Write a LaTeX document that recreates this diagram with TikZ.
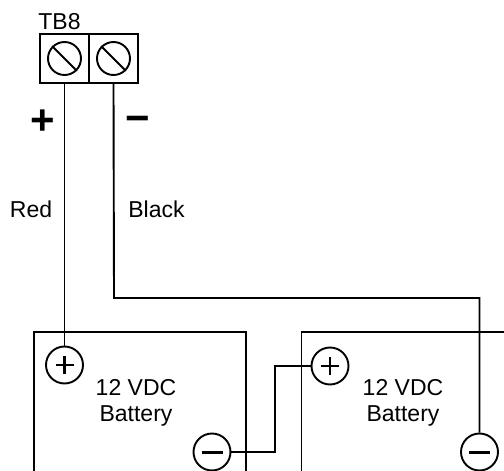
\documentclass[tikz,border=0pt]{standalone}
\usepackage{fontspec}
\setmainfont{Liberation Sans}
\begin{document}
\begin{tikzpicture}[x=1pt,y=-1pt,
  wire/.style={line width=1.9pt},
  tbbox/.style={draw,line width=2pt,minimum width=49pt,minimum height=49pt,inner sep=0pt},
  screw/.style={draw,circle,line width=1.9pt,minimum size=33pt,inner sep=0pt},
  batbox/.style={draw,line width=1.9pt,anchor=north west,inner sep=0pt},
  term/.style={draw,circle,line width=1.9pt,minimum size=37pt,inner sep=0pt},
  lbl/.style={font=\fontsize{23}{26}\selectfont,inner sep=0pt},
  sign/.style={font=\fontsize{42}{42}\selectfont\bfseries,inner sep=0pt}]
\clip (0,0) rectangle (504,471);
% terminal block
\node[tbbox] (tb1) at (64.5,58.5) {};
\node[tbbox] (tb2) at (113.5,58.5) {};
\node[screw] (s1) at (64.5,58.5) {};
\node[screw] (s2) at (113.5,58.5) {};
\draw[wire] (s1.135) -- (s1.-45);
\draw[wire] (s2.135) -- (s2.-45);
\node[lbl,anchor=base] (tbl) at (59.5,29) {TB8};
\node[sign] (plus) at (43,122) {+};
\node[sign] (minus) at (138,124) {−};
\node[lbl,anchor=base] (red) at (31,217) {Red};
\node[lbl,anchor=base] (black) at (156.5,217) {Black};
% batteries
\node[batbox,minimum width=212pt,minimum height=170pt] (bat1) at (33,331) {};
\node[batbox,minimum width=230pt,minimum height=170pt] (bat2) at (300.5,331) {};
\node[lbl,align=center] (t1) at (136,402.5) {12 VDC\\Battery};
\node[lbl,align=center] (t2) at (403,402.5) {12 VDC\\Battery};
% battery terminals
\node[term] (p1) at (64.5,365) {};
\node[term] (n1) at (212,452) {};
\node[term] (p2) at (330,366) {};
\node[term] (n2) at (479.5,452) {};
\draw[wire,line width=2.2pt] ([xshift=-9pt]p1.center) -- ([xshift=9pt]p1.center)
  ([yshift=-9pt]p1.center) -- ([yshift=9pt]p1.center);
\draw[wire,line width=2.2pt] ([xshift=-9pt]p2.center) -- ([xshift=9pt]p2.center)
  ([yshift=-9pt]p2.center) -- ([yshift=9pt]p2.center);
\draw[wire,line width=3pt] ([xshift=-10.5pt]n1.center) -- ([xshift=10.5pt]n1.center);
\draw[wire,line width=3pt] ([xshift=-10.5pt]n2.center) -- ([xshift=10.5pt]n2.center);
% wires
\coordinate (bend) at (114,298);
\coordinate (j) at (275,452);
\draw[wire] (tb1.south) -- (p1.north);
\draw[wire] (tb2.south) -- (bend) -| (n2.north);
\draw[wire] (n1.east) -- (j) |- (p2.west);
\end{tikzpicture}
\end{document}
